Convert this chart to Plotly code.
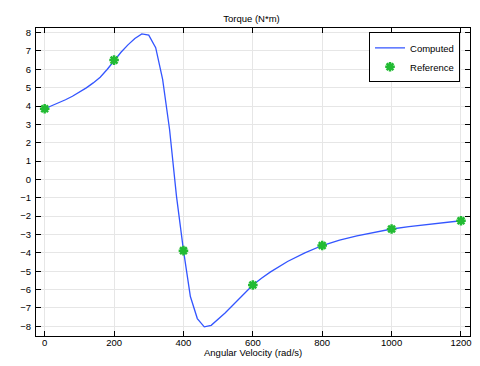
import plotly.graph_objects as go

# Computed curve (angular velocity rad/s, torque N*m)
omega = [0, 20, 40, 60, 80, 100, 120, 140, 160, 180, 200, 220, 240, 260, 280, 300,
         320, 340, 360, 380, 400, 420, 440, 460, 480, 500, 520, 540, 560, 580, 600,
         625, 650, 700, 750, 800, 850, 900, 950, 1000, 1050, 1100, 1150, 1200]
torque = [3.85, 4.0, 4.16, 4.34, 4.53, 4.75, 4.99, 5.26, 5.57, 5.99, 6.48, 6.93, 7.33, 7.68, 7.93, 7.86,
          7.18, 5.45, 2.72, -0.92, -3.85, -6.38, -7.58, -8.03, -7.95, -7.64, -7.28, -6.9, -6.52, -6.13, -5.75,
          -5.38, -5.05, -4.47, -4.0, -3.6, -3.31, -3.08, -2.88, -2.7, -2.57, -2.45, -2.35, -2.25]

# Reference points
ref_omega = [0, 200, 400, 600, 800, 1000, 1200]
ref_torque = [3.85, 6.5, -3.88, -5.75, -3.6, -2.7, -2.25]

x_ticks = [0, 200, 400, 600, 800, 1000, 1200]
y_ticks = list(range(-8, 9))

FONT = "Liberation Sans"
FS = 9.5

fig = go.Figure()
fig.add_trace(go.Scatter(x=omega, y=torque, mode="lines", name="Computed",
                         line=dict(color="#3355ff", width=1.3)))
fig.add_trace(go.Scatter(x=ref_omega, y=ref_torque, mode="markers", name="Reference",
                         marker=dict(symbol="asterisk-open", size=8, color="#22bb33",
                                     line=dict(color="#22bb33", width=2.5))))

axis_common = dict(showline=True, linecolor="black", linewidth=1, mirror="allticks",
                   ticks="inside", ticklen=5, tickcolor="black", showgrid=True,
                   gridcolor="#e6e6e6", gridwidth=1, zeroline=False, automargin=False,
                   tickfont=dict(size=FS, color="black", family=FONT))

fig.update_layout(
    width=480, height=366,
    margin=dict(l=36, r=10, t=28, b=30),
    paper_bgcolor="white", plot_bgcolor="white",
    font=dict(family=FONT, size=FS, color="black"),
    title=dict(text="Torque (N*m)", x=0.524, xanchor="center", y=0.948, yanchor="middle",
               font=dict(size=FS, color="black", family=FONT)),
    xaxis=dict(range=[-25, 1226], tickvals=x_ticks, ticklabelstandoff=-2, **axis_common),
    yaxis=dict(range=[-8.53, 8.25], tickvals=y_ticks, ticklabelstandoff=2, **axis_common),
    legend=dict(x=0.977, y=0.986, xanchor="right", yanchor="top",
                bgcolor="white", bordercolor="black", borderwidth=1,
                font=dict(size=FS, family=FONT), tracegroupgap=0, itemwidth=30),
    annotations=[dict(text="Angular Velocity (rad/s)", xref="paper", yref="paper",
                      x=0.5, y=-0.054, xanchor="center", yanchor="middle",
                      showarrow=False, font=dict(size=FS, family=FONT, color="black"))],
    showlegend=True,
)

fig.write_html("out.html", config={"displayModeBar": False},
               post_script="document.body.style.margin='0';document.body.style.overflow='hidden';")
